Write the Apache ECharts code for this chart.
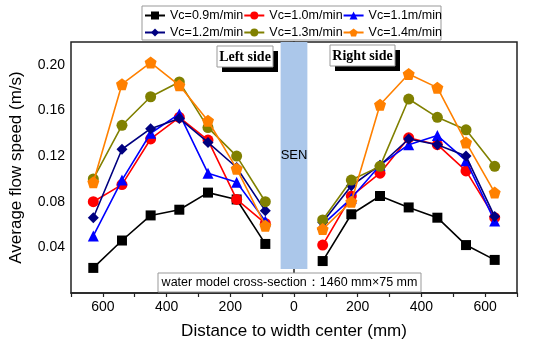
<!DOCTYPE html>
<html><head><meta charset="utf-8">
<script src="https://cdn.jsdelivr.net/npm/echarts@6/dist/echarts.min.js"></script>
<style>html,body{margin:0;padding:0;background:#fff}#c{width:550px;height:345px}</style>
</head><body><div id="c"></div>
<script>
// Distances (mm); left side plotted as negative positions
const leftX = [-630, -540, -450, -360, -270, -180, -90];
const rightX = [90, 180, 270, 360, 450, 540, 630];
const seriesNames = ['Vc=0.9m/min','Vc=1.0m/min','Vc=1.1m/min','Vc=1.2m/min','Vc=1.3m/min','Vc=1.4m/min'];
// Average flow speed (m/s)
const left09 = [0.022, 0.046, 0.068, 0.073, 0.088, 0.082, 0.043];
const left10 = [0.080, 0.095, 0.135, 0.154, 0.134, 0.082, 0.061];
const left11 = [0.050, 0.099, 0.140, 0.157, 0.105, 0.097, 0.063];
const left12 = [0.066, 0.126, 0.144, 0.153, 0.132, 0.110, 0.072];
const left13 = [0.100, 0.147, 0.172, 0.185, 0.145, 0.120, 0.080];
const left14 = [0.097, 0.183, 0.202, 0.182, 0.151, 0.109, 0.059];
const right09 = [0.028, 0.069, 0.085, 0.075, 0.066, 0.042, 0.029];
const right10 = [0.042, 0.085, 0.105, 0.136, 0.130, 0.107, 0.066];
const right11 = [0.060, 0.083, 0.112, 0.130, 0.138, 0.116, 0.063];
const right12 = [0.062, 0.094, 0.112, 0.135, 0.130, 0.120, 0.067];
const right13 = [0.064, 0.099, 0.111, 0.170, 0.154, 0.143, 0.111];
const right14 = [0.056, 0.080, 0.165, 0.192, 0.180, 0.132, 0.088];
const senRange = [-42, 42];
const senYRange = [0.021, 0.22];

const leftData = [left09, left10, left11, left12, left13, left14];
const rightData = [right09, right10, right11, right12, right13, right14];
const colors = ['#000000', '#ff0000', '#0000ff', '#000080', '#808000', '#ff8000'];
const pentagon = 'path://M0,-10 L9.51,-3.09 L5.88,8.09 L-5.88,8.09 L-9.51,-3.09 Z';
const symbols = ['rect', 'circle', 'triangle', 'diamond', 'circle', pentagon];
const sizes = [10, 11, 11, 11, 11, 12];

const zip = (xs, ys) => xs.map((x, i) => [x, ys[i]]);
const series = [];
seriesNames.forEach((n, i) => {
  [zip(leftX, leftData[i]), zip(rightX, rightData[i])].forEach(d => {
    series.push({
      name: n, type: 'line', data: d, symbol: symbols[i], symbolSize: sizes[i],
      color: colors[i], lineStyle: {width: 1.6, color: colors[i]},
      itemStyle: {color: colors[i]}, z: 3 + i
    });
  });
});
series.push({
  type: 'line', data: [], silent: true,
  markArea: {silent: true, itemStyle: {color: '#abc7ea'},
    label: {show: true, position: 'inside', color: '#000', fontSize: 13, fontFamily: 'Liberation Sans'},
    data: [[{xAxis: senRange[0], yAxis: senYRange[0], name: 'SEN'}, {xAxis: senRange[1], yAxis: senYRange[1]}]]}
});

const legendCommon = {
  itemGap: 0, itemWidth: 20, itemHeight: 10, padding: 0,
  textStyle: {fontSize: 12.5, color: '#000', fontFamily: 'Liberation Sans'}
};

const chart = echarts.init(document.getElementById('c'), null, {renderer: 'canvas'});
chart.setOption({
  animation: false,
  textStyle: {fontFamily: 'Liberation Sans'},
  grid: {left: 65, right: 33, top: 42, bottom: 50, show: true, borderColor: '#222', borderWidth: 1.5, backgroundColor: 'transparent'},
  legend: [
    Object.assign({data: seriesNames.slice(0, 3), top: 9, left: 144}, legendCommon),
    Object.assign({data: seriesNames.slice(3), top: 26, left: 144}, legendCommon)
  ],
  xAxis: {
    type: 'value', min: -700, max: 700, interval: 100,
    axisLine: {show: true, onZero: false, lineStyle: {color: '#222', width: 1.5}},
    axisTick: {show: true, length: 4, lineStyle: {color: '#222', width: 1.2}},
    axisLabel: {fontSize: 14, color: '#000', margin: 7, formatter: v => (v % 200 === 0 && Math.abs(v) < 700) ? String(Math.abs(v)) : ''},
    splitLine: {show: false},
    name: 'Distance to width center (mm)', nameLocation: 'middle', nameGap: 30,
    nameTextStyle: {fontSize: 17, color: '#000'}
  },
  yAxis: {
    type: 'value', min: 0, max: 0.22, interval: 0.04,
    axisLine: {show: true, lineStyle: {color: '#222', width: 1.5}},
    axisTick: {show: true, length: 4, lineStyle: {color: '#222', width: 1.2}},
    axisLabel: {fontSize: 14, color: '#000', margin: 6, formatter: v => (v === 0 || v > 0.21) ? '' : v.toFixed(2)},
    splitLine: {show: false},
    name: 'Average flow speed (m/s)', nameLocation: 'middle', nameGap: 46,
    nameTextStyle: {fontSize: 17, color: '#000'}
  },
  series: series,
  graphic: [
    {type: 'rect', shape: {x: 142, y: 6, width: 299, height: 34}, style: {fill: '#fff', stroke: '#999', lineWidth: 1}, z: -1},
    {type: 'rect', shape: {x: 222, y: 51, width: 56, height: 21}, style: {fill: '#000'}, z: 20},
    {type: 'rect', shape: {x: 217, y: 46, width: 56, height: 21}, style: {fill: '#fff', stroke: '#999', lineWidth: 1}, z: 21},
    {type: 'text', x: 245, y: 57, style: {text: 'Left side', fontFamily: 'Liberation Serif', fontWeight: 'bold', fontSize: 14, fill: '#000', align: 'center', verticalAlign: 'middle'}, z: 22},
    {type: 'rect', shape: {x: 335, y: 50, width: 65, height: 21}, style: {fill: '#000'}, z: 20},
    {type: 'rect', shape: {x: 330, y: 45, width: 65, height: 21}, style: {fill: '#fff', stroke: '#999', lineWidth: 1}, z: 21},
    {type: 'text', x: 362.5, y: 56, style: {text: 'Right side', fontFamily: 'Liberation Serif', fontWeight: 'bold', fontSize: 14, fill: '#000', align: 'center', verticalAlign: 'middle'}, z: 22},
    {type: 'rect', shape: {x: 158, y: 273, width: 263, height: 19}, style: {fill: '#fff', stroke: '#999', lineWidth: 1}, z: 20},
    {type: 'text', x: 289.5, y: 283, style: {text: 'water model cross-section：1460 mm×75 mm', fontFamily: 'Liberation Sans', fontSize: 12.5, fill: '#000', align: 'center', verticalAlign: 'middle'}, z: 22}
  ]
});
</script></body></html>
